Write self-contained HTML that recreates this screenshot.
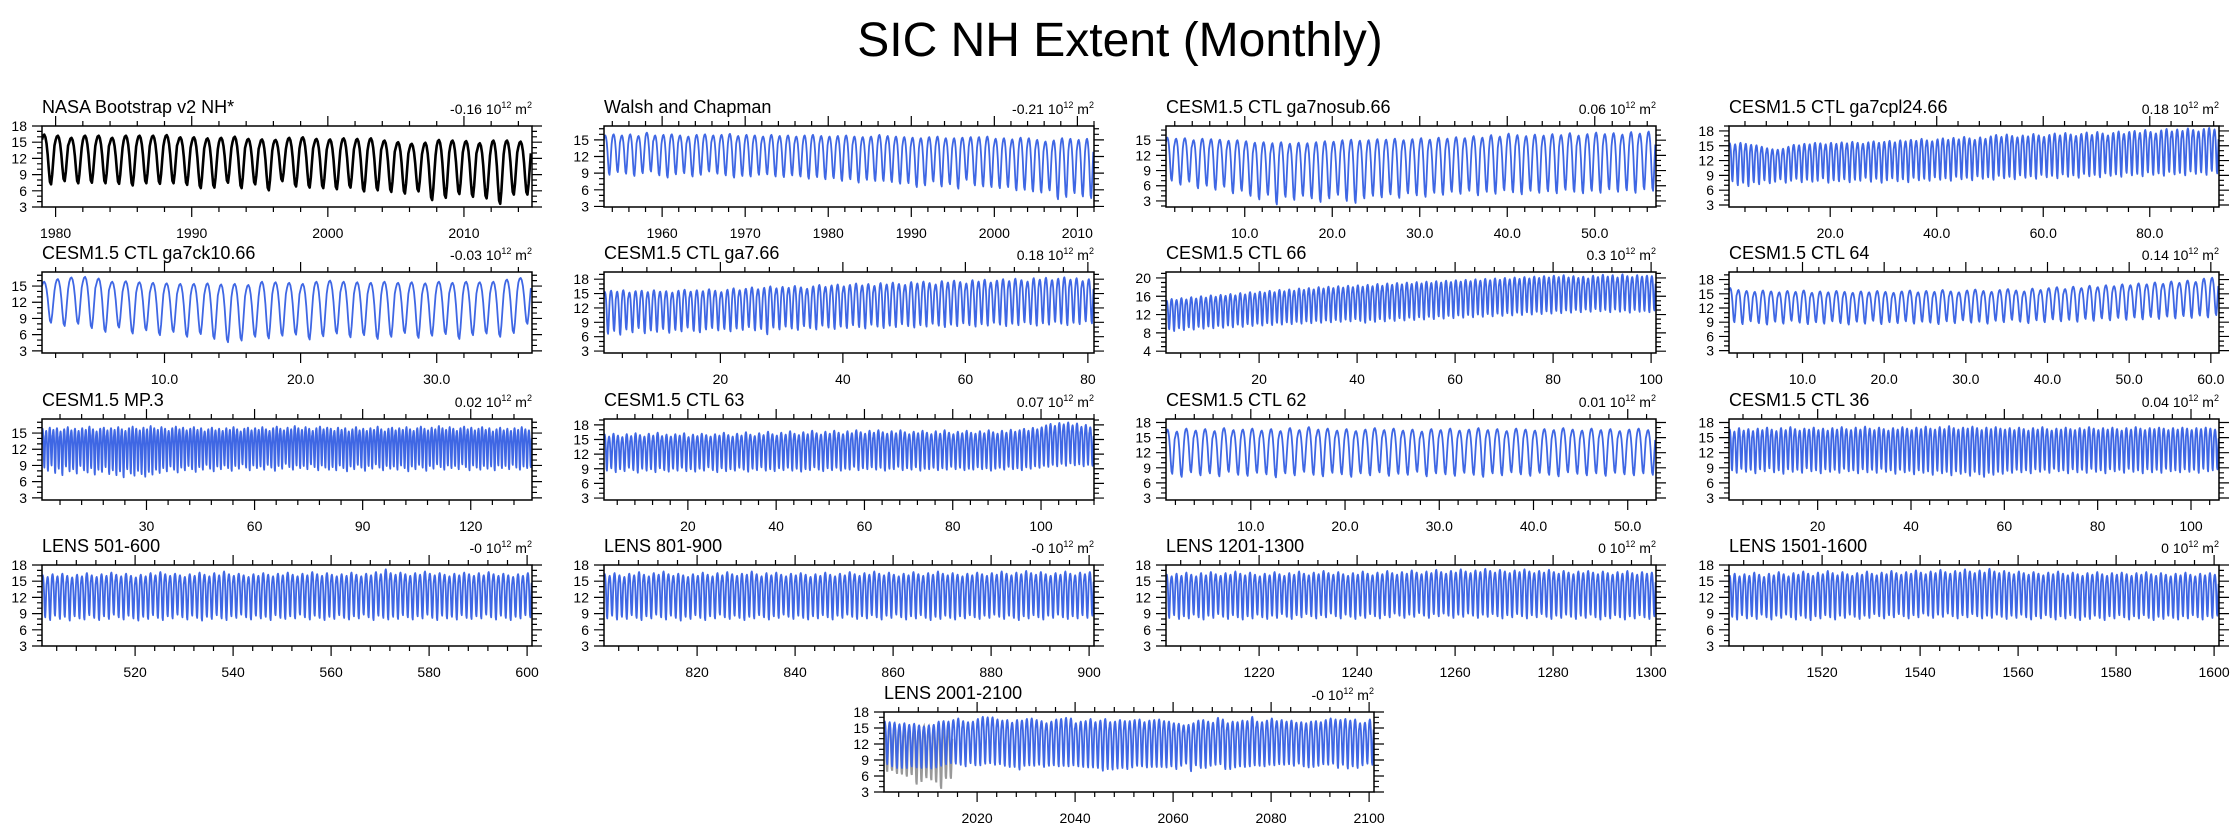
<!DOCTYPE html>
<html><head><meta charset="utf-8">
<style>
html,body{margin:0;padding:0;background:#fff;}
svg{display:block;font-family:"Liberation Sans",Arial,sans-serif;}
</style></head>
<body>
<svg id="chart" width="2240" height="831" viewBox="0 0 2240 831" xmlns="http://www.w3.org/2000/svg">
<rect x="0" y="0" width="2240" height="831" fill="#fff"/>
<text x="1120" y="56" text-anchor="middle" font-size="48" fill="#000">SIC NH Extent (Monthly)</text>
</svg>
<script>
// normalized seasonal cycle Jan..Dec
const seasonShape=[0.9,0.98,1,0.95,0.82,0.6,0.3,0.05,0,0.2,0.5,0.78];

const nasaMax=[16.4,16.2,15.8,16.2,16.2,15.8,16.2,16.2,16.2,16.3,15.9,15.9,15.7,15.8,16,15.6,15.5,15.4,15.8,15.9,15.6,15.5,15.7,15.6,15.7,15.3,15,14.7,14.9,15.4,15.3,15.2,14.8,15.3,15.3,15.1];
const nasaMin=[7.2,7.8,7.4,7.5,7.4,7.3,7,7.4,7.3,7.4,7.1,6.5,6.6,7.5,6.5,7.2,6.1,7.8,6.8,6.6,6.5,6.3,6.6,5.9,6.1,5.8,5.5,5.9,4.3,4.7,5.4,4.9,4.6,3.6,5.3,5.3];

const walshMax=[15.8,16,15.8,16,15.7,16.3,15.8,15.9,16,15.8,15.6,15.9,16,15.8,15.9,16.1,15.7,15.9,15.8,15.6,15.9,15.7,15.8,15.6,15.8,15.9,15.7,15.6,15.7,15.8,15.6,15.5,15.6,15.9,15.7,15.6,15.5,15.4,15.3,15.5,15.6,15.3,15.3,15.4,15.5,15.5,15.6,15.2,15.3,15.1,15.4,15.3,15,14.7,14.9,15.3,15.2,15,15.2];
const walshMin=[8.7,9.2,8.9,8.5,9,9.3,8.6,8.2,8.8,9,8.4,8.7,9.3,8.9,8.6,8.2,8.5,8.4,8.7,8.8,8.4,8.3,8.6,8.4,8,8.3,7.9,8.1,7.6,7.9,7.3,7.8,7.6,7.6,7.4,7.1,7.2,6.5,6.8,7.5,6.6,7,6.2,7.8,6.8,6.6,6.5,6.3,6.5,5.9,6,5.7,5.5,5.9,4.3,4.7,5.4,4.8,4.5];

const nosubMax=[15.5,15.3,15.4,15,15.3,15.2,15.1,14.9,15,14.8,14.5,14.6,14.4,14.6,14.3,14.5,14.4,14.6,14.8,14.7,15,15.1,14.9,15,15.2,15.1,15.3,15,15.2,15.4,15.1,15.5,15.3,15.6,15.4,15.8,15.5,16,15.7,16.3,16,15.8,16.1,15.9,16.2,16,16.4,15.9,16.2,16.5,16.2,16.4,16.1,16.6,16.3,16.7];
const nosubMin=[7,6.2,6.8,5.5,6,5.2,5.8,4.5,5,4,3.3,4.2,2.3,3.8,3.2,4,3.5,2.8,3.5,4.2,3,2.6,3.5,4,3.7,4.3,3.6,4.5,4.1,3.8,4.6,4.2,4.8,4.4,5,4.1,4.8,4.4,5.1,4.7,4.3,5,4.6,4.9,4.5,5.2,4.8,4.5,5,4.6,5.3,4.8,5.1,4.6,5.3,5];

const cpl24Max=[15.5,15.3,15.6,15.4,15.2,15.1,14.8,14.5,14.3,14.2,14.4,14.8,15.2,15.1,15.4,15.3,15.6,15.5,15.3,15.6,15.4,15.7,15.5,15.8,15.6,15.4,15.7,15.9,15.6,15.8,16,15.7,16.1,15.9,16.2,16,16.4,16.1,15.9,16.3,16.5,16.2,16.6,16.3,16.8,16.5,16.2,16.7,16.4,16.9,17.2,16.8,17.3,17,16.7,17.1,16.9,17.4,17.1,16.8,17.2,17.5,17.1,17.6,17.3,17,17.4,17.7,17.2,17.8,17.5,17.1,17.6,17.9,17.4,17.8,18,17.6,18.2,17.8,17.5,18.1,18.4,17.9,18.3,18,18.5,18.2,17.9,18.4,18.6,18.3];
const cpl24Min=[7.8,7,7.5,6.8,7.6,7.2,8,7.4,7.7,8.2,7.5,7.9,8.3,7.6,8.1,7.7,7.9,8.4,7.5,8,7.8,8.2,7.6,8.1,7.9,8.5,7.7,8.3,7.5,8,8.4,7.8,8.2,7.6,8.5,8,8.3,7.9,8.6,8.1,8.4,7.9,8.7,8.2,8.5,8,8.8,8.3,8.6,8.1,8.9,8.4,8.7,8.2,9,8.5,8.8,8.3,9.1,8.6,8.9,8.4,9.2,8.7,9,8.5,9.3,8.8,9.1,8.6,9.4,8.9,9.2,8.7,9.5,9,9.3,8.8,9.6,9.1,9.4,8.9,9.7,9.2,9.5,9,9.8,9.3,9.6,9.1,9.9,9.4];

const ck10Max=[15.8,16.3,16.6,16.7,16.4,15.8,15.9,15.7,15.6,15.5,15.4,15.4,15.5,15.3,15.4,15.2,15.8,15.7,15.6,15.4,15.8,16,15.8,15.7,15.6,15.8,15.6,15.7,15.5,15.8,15.6,15.8,15.7,15.8,16.2,16.5];
const ck10Min=[8.2,7.6,8,7.2,6.5,7.3,6.2,6.8,5.9,6.5,5.6,6.1,5.2,4.6,4.9,5.6,5.3,5.8,6,5.1,5.7,6.2,5.5,5.9,5.2,5.6,6.3,5.4,5.8,6.1,5.2,5.9,6.2,5.6,6.3,8];

const ga7Max=[15.3,15.6,15.4,15.7,15.2,15.5,15.6,15.3,15.7,15.4,15.5,15.2,15.6,15.8,15.4,15.7,15.5,15.9,15.6,15.3,15.8,16.1,15.7,16,16.3,15.9,16.2,16.5,16.1,16.4,16.2,16.6,16.3,16,16.5,16.8,16.4,16.7,16.9,16.5,16.8,17.1,16.7,17,16.6,17.2,16.9,17.3,17,16.8,17.4,17.1,17.5,17.2,16.9,17.6,17.3,17.7,17.4,17.1,17.8,17.5,17.9,17.3,17.7,18,17.6,18.1,17.8,17.5,18.2,17.9,18.3,17.8,18.1,18.4,17.9,18.2,17.6,18];
const ga7Min=[6.6,7.2,6.4,7.5,6.9,7.8,6.7,7.3,7,7.6,6.8,7.4,7.1,7.9,7.2,6.9,7.5,7.8,7.3,7.6,7.1,7.7,7.4,8,7.3,7.6,6.5,7.9,7.5,8.1,7.7,7.4,8.2,7.8,7.5,8.3,7.9,7.6,8.1,7.8,8.4,8,7.7,8.5,8.1,7.8,8.3,8,8.6,8.2,7.9,8.4,8.1,8.7,8.3,8,8.5,8.2,8.8,8.4,8.1,8.6,8.3,8.9,8.5,8.2,8.7,8.4,9,8.6,8.3,8.8,8.5,9.1,8.7,8.4,8.9,8.6,9.2,8.8];

const ctl66Max=[15,15.4,15.2,15.6,15.3,15.8,15.5,16,15.7,16.2,15.9,16.3,16.1,16.5,16.2,16.7,16.4,16.9,16.6,17,16.8,17.2,16.9,17.4,17.1,17.5,17.2,17.7,17.4,17.8,17.5,18,17.7,18.1,17.8,18.2,17.9,18.3,18,18.4,18.1,18.5,18.2,18.7,18.3,18.8,18.5,18.9,18.6,19,18.7,19.1,18.8,19.2,18.9,19.3,19,19.4,19.1,19.5,19.2,19.6,19.3,19.7,19.4,19.8,19.5,19.9,19.6,20,19.7,20.1,19.8,20.2,19.9,20.3,20,20.4,20.1,20.5,20.2,20.6,20.1,20.4,20,20.3,19.9,20.5,20.2,20.7,20.3,20.6,20.1,20.8,20.4,20.2,20.6,20.3,20.5,20.4];
const ctl66Min=[8.8,8.4,9,8.6,9.2,8.7,9.3,8.9,9.4,9,9.5,9.1,9.6,9.2,9.8,9.3,9.9,9.5,10,9.6,10.1,9.7,10.2,9.8,10.3,9.9,10.4,10,10.5,10.1,10.6,10.2,10.7,10.3,10.8,10.4,10.9,10.5,11,10.6,10.2,10.8,10.4,11,10.5,11.1,10.6,11.2,10.7,11.3,10.8,11.4,10.9,11.5,11,11.6,11.1,11.7,11.2,11.8,11.3,11.9,11.4,12,11.5,12.1,11.6,12.2,11.7,12.3,11.8,12.4,11.9,12.5,12,12.6,12.1,12.7,12.2,12.8,12.3,12.9,12.4,13,12.5,13.1,12.6,13.2,12.7,13,12.5,13.1,12.6,12.9,12.4,13,12.6,12.8,12.5,12.9];

const ctl64Max=[16.2,15.8,15.6,15.4,15.7,15.5,15.3,15.6,15.4,15.7,15.2,15.5,15.3,15.6,15.4,15.2,15.5,15.3,15.6,15.4,15.2,15.5,15.7,15.3,15.6,15.4,15.8,15.5,15.3,15.7,15.9,15.6,15.4,15.8,16,15.7,15.5,16.1,15.8,16.2,16.4,16,16.5,16.2,16.7,16.4,16.8,16.6,17,16.8,17.2,17,17.4,17.1,17.6,17.3,17.8,17.5,18.2,18.4];
const ctl64Min=[9,8.6,9.2,8.8,8.5,9.1,8.7,9.3,8.9,8.6,9,8.7,9.2,8.8,8.5,9.1,8.7,9.3,8.6,9,8.8,9.2,8.7,9.1,8.9,8.6,9.2,8.8,9.4,8.9,9.1,8.7,9.3,9,9.5,9.1,8.8,9.4,9,9.6,9.2,9.5,9.1,9.7,9.3,9.8,9.4,9.9,9.5,10,9.6,10.1,9.7,10.2,9.8,10.3,9.9,10.4,10,10.5];

const mp3Max=[15.8,15.4,16,15.6,15.9,15.3,15.7,16.1,15.5,15.8,15.4,15.9,15.6,16.2,15.7,15.3,15.8,16,15.5,15.9,15.6,16.1,15.7,15.4,15.9,16.2,15.8,15.5,16,15.7,16.3,15.9,15.6,16.1,15.8,15.4,15.9,16.2,15.7,16,15.5,15.8,16.1,15.6,15.9,15.3,15.7,16,15.5,15.8,15.4,15.9,15.6,16.1,15.7,15.3,15.8,16,15.5,15.9,15.6,16.1,15.7,15.4,15.9,16.2,15.8,15.5,16,15.7,16.3,15.9,15.6,16.1,15.8,15.4,15.9,16.2,15.7,16,15.8,15.4,16,15.6,15.9,15.3,15.7,16.1,15.5,15.8,15.4,15.9,15.6,16.2,15.7,15.3,15.8,16,15.5,15.9,15.6,16.1,15.7,15.4,15.9,16.2,15.8,15.5,16,15.7,16.3,15.9,15.6,16.1,15.8,15.4,15.9,16.2,15.7,16,15.5,15.8,16.1,15.6,15.9,15.3,15.7,16,15.5,15.8,15.4,15.9,15.6,16.1,15.7,15.5];
const mp3Min=[8.6,8,9,7.6,8.4,7.2,8.8,7.9,8.3,7.5,8.9,8.1,7.7,8.5,7.3,8.2,7.8,8.7,7.4,8.1,7.2,7.9,6.8,8.3,7.5,7.1,8,7.4,6.9,7.8,7.3,8.2,7.6,8.5,7.9,8.8,8.2,7.7,8.6,8.1,8.9,8.3,7.8,8.7,8.2,9.1,8.4,7.9,8.8,8.3,9,8.5,8,8.9,8.4,9.2,8.6,8.1,9,8.5,8.8,8.2,9.1,8.6,8,8.9,8.4,9.3,8.7,8.2,9,8.5,8.9,8.3,9.2,8.7,8.1,9,8.6,8.2,8.7,8.1,9,8.5,7.9,8.8,8.3,9.1,8.6,8,8.9,8.4,9.2,8.6,8.1,8.9,8.4,8.8,8.2,9,8.5,7.9,8.8,8.3,9.1,8.6,8,8.9,8.4,9.2,8.7,8.2,9,8.5,8.9,8.3,9.2,8.7,8.1,9,8.6,8.2,8.9,8.4,8.8,8.1,9,8.5,8.9,8.3,9.1,8.6,8.2,8.8,8.5,8.7];

const ctl63Max=[16,15.6,16.2,15.8,15.5,16.1,15.7,16.3,15.9,15.6,16.2,15.8,16.4,15.7,16,15.6,16.1,15.8,16.3,15.5,16,15.7,16.2,15.9,15.6,16.1,15.8,16.4,15.9,15.6,16.2,15.8,16.5,16,15.7,16.3,15.9,16.6,16.1,15.8,16.4,16,16.7,16.2,15.9,16.5,16.1,16.8,16.3,16,16.6,16.2,16.8,16.4,16.1,16.7,16.3,16.9,16.5,16.2,16.8,16.4,16.9,16.5,16.2,16.7,16.3,16.9,16.5,16.1,16.6,16.3,16.8,16.4,16.1,16.7,16.2,16.9,16.4,16.1,16.6,16.3,16.8,16.4,16.2,16.7,16.3,16.9,16.5,16.2,16.8,16.4,17,16.6,16.9,17.2,16.8,17.4,17.1,17.5,17.9,18.2,17.8,18.4,18.1,18.5,17.9,18.3,17.6,18,17.5];
const ctl63Min=[8.6,9.1,8.3,8.9,8.5,9.2,8.7,8.2,9,8.6,8.9,8.3,9.1,8.7,8.4,9,8.6,9.2,8.5,8.9,8.4,9,8.6,9.3,8.7,8.3,9.1,8.5,8.9,8.6,9.2,8.8,8.4,9,8.7,9.3,8.6,8.9,8.5,9.1,8.7,9.2,8.6,9,8.4,8.9,8.7,9.3,8.8,8.5,9.1,8.7,9.2,8.6,9,8.8,9.4,8.7,9.1,8.9,9.3,8.8,9.2,8.6,9,8.9,9.4,8.7,9.1,8.8,9.3,8.6,9,8.9,9.2,8.7,9.1,8.8,9.4,8.9,9.2,8.7,9,8.8,9.3,8.9,9.1,8.6,9,9.2,8.8,9.4,8.9,9.1,8.7,9.3,9,9.5,9.2,9.6,9.4,9.8,9.5,10,9.6,10.1,9.7,9.9,9.5,9.8,9.6];

const ctl62Max=[16.6,16.2,16.8,16.4,16.7,16.3,16.9,16.5,16.6,16.8,16.4,16.7,16.3,16.9,16.5,17.1,16.6,16.8,16.4,16.7,16.3,16.6,16.9,16.5,16.8,16.4,16.6,16.2,16.7,16.5,16.8,16.4,16.6,16.9,16.5,16.7,16.3,16.8,16.6,16.4,16.7,16.5,16.9,16.6,16.4,16.8,16.5,16.7,16.3,16.6,16.8,16.5];
const ctl62Min=[7.8,7.2,8.1,7.5,7.9,7.3,8.2,7.6,7.4,8,7.7,7.1,7.9,7.5,8.2,7.6,7.3,8,7.7,7.2,7.9,7.5,8.1,7.4,7.8,7.6,8.2,7.3,7.9,7.7,7.4,8,7.6,7.2,7.9,7.5,8.1,7.7,7.4,8,7.6,7.3,8.1,7.8,7.5,7.9,7.4,8,7.7,7.5,7.9,7.6];

const ctl36Max=[16.6,16.2,16.9,16.4,16.7,16.3,16.8,16.5,17,16.6,16.3,16.9,16.5,17.1,16.7,16.4,16.8,16.6,17,16.5,16.8,16.4,16.9,16.6,17.1,16.7,16.5,17,16.6,17.2,16.8,16.5,17,16.7,16.4,16.9,16.6,17.1,16.8,16.5,17,16.7,17.2,16.8,16.6,17.1,16.7,17.3,16.9,16.6,17,16.8,17.2,16.9,16.5,17,16.7,17.1,16.8,16.6,16.9,16.5,17,16.7,16.4,16.9,16.6,17.1,16.7,16.4,16.8,16.6,17,16.7,16.5,16.9,16.6,17.1,16.8,16.5,16.9,16.6,17,16.7,16.4,16.9,16.6,17.1,16.8,16.5,16.9,16.7,17,16.8,16.5,16.9,16.6,17,16.8,16.5,16.9,16.7,17,16.8,16.6];
const ctl36Min=[8.5,8,8.8,8.2,8.6,7.9,8.7,8.3,8.9,8.1,8.5,7.8,8.7,8.2,8.6,8,8.9,8.3,8.5,7.9,8.7,8.2,8.6,8,8.8,8.3,8.5,7.9,8.7,8.1,8.6,8,8.8,8.2,8.5,7.8,8.6,8.1,8.4,7.7,8.5,8,8.3,7.6,8.4,7.9,8.2,7.5,8.3,7.8,8.1,7.4,8.2,7.7,7.2,8,7.6,8.2,7.8,8.4,8,8.6,8.1,8.5,7.9,8.7,8.2,8.6,8,8.8,8.3,8.5,7.9,8.7,8.1,8.6,8,8.8,8.2,8.5,7.9,8.7,8.3,8.6,8,8.8,8.2,8.5,7.9,8.7,8.1,8.6,8,8.8,8.3,8.5,8.1,8.7,8.2,8.6,8,8.8,8.3,8.5,8.7];

const lens501Max=[16.1,15.8,16.3,15.9,16.4,16,15.7,16.2,15.9,16.5,16.1,15.8,16.3,16,16.6,16.2,15.9,16.4,16,15.7,16.2,15.9,16.5,16.1,16.7,16.3,16,16.4,16.1,15.8,16.3,16,16.6,16.2,15.9,16.5,16.1,16.8,16.3,16,16.4,16.1,15.8,16.3,16,16.5,16.2,15.9,16.4,16.1,16.6,16.2,15.9,16.4,16.1,16.7,16.3,16,16.5,16.2,15.9,16.3,16,16.6,16.2,15.9,16.4,16.1,16.7,16.3,17.2,16.5,16.2,16.6,16.3,16,16.5,16.2,16.8,16.4,16.1,16.5,16.2,15.9,16.4,16.1,16.6,16.3,16,16.5,16.1,16.7,16.3,16,16.4,16.1,15.8,16.3,16,16.5];
const lens501Min=[8.3,7.8,8.6,8,8.4,7.7,8.5,8.1,7.9,8.7,8.2,7.8,8.5,8,8.8,8.3,7.9,8.6,8.1,7.7,8.4,8,8.7,8.2,7.8,8.5,8.1,8.8,8.3,7.9,8.6,8.2,7.7,8.4,8,8.7,8.1,7.8,8.5,8.2,8.8,8.3,7.9,8.6,8.1,8.4,7.8,8.7,8.2,8,8.5,8.1,8.8,8.3,7.9,8.6,8.2,7.8,8.4,8,8.7,8.2,7.9,8.5,8.1,8.8,8.3,7.8,8.6,8.2,7.9,8.4,8,8.7,8.3,7.9,8.5,8.1,8.8,8.2,7.8,8.6,8.1,8.4,7.9,8.7,8.2,8,8.5,8.1,8.8,8.3,7.9,8.6,8.2,7.8,8.4,8.1,8.7,8.3];

const lens801Max=[16.3,16,16.5,16.1,15.8,16.4,16.1,16.7,16.2,15.9,16.5,16.2,16.8,16.3,16,16.4,16.1,15.8,16.3,16,16.6,16.2,15.9,16.5,16.1,16.7,16.3,16,16.4,16.2,16.8,16.3,15.9,16.5,16.1,16.6,16.2,15.9,16.4,16.1,16.5,16.2,15.8,16.3,16,16.6,16.2,15.9,16.4,16.1,16.7,16.3,16,16.5,16.2,16.8,16.4,16.1,16.6,16.2,15.9,16.4,16.1,16.7,16.3,16,16.5,16.2,16.8,16.4,16.1,16.5,16.2,15.9,16.4,16.1,16.6,16.3,16,16.5,16.2,16.8,16.4,16.1,16.6,16.3,16.9,16.5,16.2,16.7,16.3,16,16.5,16.2,16.8,16.4,16.1,16.6,16.3,16.7];
const lens801Min=[8.1,8.6,7.9,8.4,8,8.7,8.2,7.8,8.5,8.1,8.8,8.3,7.9,8.6,8.2,7.7,8.4,8,8.7,8.2,7.8,8.5,8.1,8.8,8.3,8,8.6,8.2,7.8,8.4,8.1,8.7,8.3,7.9,8.5,8.2,8.8,8.4,8,8.6,8.2,7.9,8.5,8.1,8.7,8.3,7.9,8.6,8.2,8.8,8.4,8,8.5,8.1,8.7,8.3,7.9,8.6,8.2,8.8,8.3,7.9,8.5,8.1,8.7,8.2,7.8,8.4,8,8.6,8.2,7.9,8.5,8.1,8.7,8.3,8,8.6,8.2,8.8,8.4,8,8.6,8.2,7.8,8.5,8.1,8.7,8.3,7.9,8.6,8.2,8.8,8.3,8,8.5,8.1,8.7,8.2,8.6];

const lens1201Max=[16.2,15.9,16.4,16,16.6,16.2,15.9,16.5,16.1,16.7,16.3,16,16.5,16.2,16.8,16.4,16.1,16.6,16.2,15.9,16.4,16.1,16.7,16.3,16,16.5,16.2,16.8,16.4,16.1,16.6,16.3,16.9,16.5,16.2,16.7,16.3,16,16.5,16.2,16.8,16.4,16.1,16.6,16.3,16.9,16.5,16.2,16.7,16.4,17,16.6,16.3,16.8,16.5,17.1,16.7,16.4,16.9,16.6,17.2,16.8,16.5,17,16.7,17.3,16.9,16.6,17.1,16.8,16.5,17,16.7,17.2,16.8,16.5,16.9,16.6,17.1,16.7,16.4,16.9,16.6,16.3,16.8,16.5,16.9,16.6,16.3,16.8,16.5,16.2,16.7,16.4,16.9,16.5,16.2,16.7,16.4,16.6];
const lens1201Min=[8.2,8.7,8,8.5,8.1,8.8,8.3,7.9,8.6,8.2,8.9,8.4,8,8.7,8.3,7.9,8.5,8.1,8.8,8.3,8,8.6,8.2,8.9,8.4,8,8.7,8.3,8.9,8.5,8.1,8.7,8.3,9,8.5,8.1,8.8,8.4,8,8.6,8.2,8.9,8.5,8.1,8.7,8.3,9,8.6,8.2,8.8,8.4,9.1,8.6,8.2,8.9,8.5,9,8.6,8.2,8.8,8.4,9,8.6,8.2,8.8,8.4,8.9,8.5,8.1,8.7,8.3,8.9,8.5,8.1,8.7,8.3,8.9,8.4,8,8.6,8.2,8.8,8.4,8,8.6,8.2,8.8,8.3,7.9,8.5,8.1,8.7,8.3,7.9,8.5,8.1,8.7,8.3,8,8.5];

const lens1501Max=[16,16.4,15.9,16.3,16,16.6,16.2,15.8,16.4,16.1,16.7,16.3,15.9,16.5,16.2,16.8,16.4,16,16.6,16.3,16.9,16.5,16.1,16.7,16.3,16,16.5,16.2,16.8,16.4,16.1,16.6,16.3,16.9,16.5,16.2,16.7,16.4,17,16.6,16.3,16.8,16.5,17.1,16.7,16.4,16.9,16.6,17.2,16.8,16.5,17,16.6,17.3,16.8,16.5,16.9,16.6,16.3,16.8,16.5,16.2,16.7,16.4,16.1,16.6,16.3,16.8,16.4,16.1,16.6,16.3,16,16.5,16.2,16.7,16.3,16,16.5,16.2,16.6,16.3,16,16.5,16.2,16.7,16.3,16,16.5,16.2,15.9,16.4,16.1,16.6,16.2,15.9,16.4,16.1,16.5,16.2];
const lens1501Min=[8.4,7.9,8.7,8.1,8.5,8,8.8,8.3,7.9,8.6,8.2,8.8,8.3,7.9,8.6,8.2,7.8,8.5,8.1,8.7,8.3,7.9,8.6,8.2,8.8,8.4,8,8.6,8.2,8.9,8.5,8.1,8.7,8.3,8.9,8.5,8.1,8.7,8.3,9,8.6,8.2,8.8,8.4,9,8.5,8.1,8.7,8.3,8.9,8.5,8.1,8.6,8.2,8.8,8.4,8,8.6,8.2,8.8,8.3,7.9,8.5,8.1,8.7,8.3,7.9,8.5,8.1,8.7,8.2,7.8,8.4,8,8.6,8.2,7.8,8.5,8.1,8.7,8.3,7.9,8.5,8.1,8.7,8.2,7.8,8.4,8,8.6,8.2,7.9,8.5,8.1,8.7,8.3,7.9,8.5,8.2,8.6];

const lens2001Max=[16.2,16.1,16,15.7,15.9,15.6,15.8,15.5,15.3,15.5,15.6,16.2,16.3,16.2,16.5,16.8,16.3,16.1,16.2,16.7,17.1,17,17,16.6,16.4,16.5,16,16.5,16.4,16.7,16.8,16.5,16.3,15.9,16.2,16.6,16.7,16.9,16.8,15.9,16.2,16.3,16.7,16.1,16.4,16.7,16.1,16.2,16.5,16.3,16.3,16.5,16.6,16.1,16.4,16.5,16.6,16.3,16.2,15.9,15.8,15.5,15.6,15.9,16.4,16.5,16.2,16,16.9,16.6,15.9,16.2,16.1,16.4,16.3,17.1,16.2,16.1,16.4,16.8,16.3,16.5,16.2,16.4,16,16.1,15.9,16.2,16.3,16.1,16.5,16.8,16.6,16.5,16.7,16.4,16.6,15.9,16,16.6];
const lens2001Min=[8.2,7.8,7.5,7.5,7.5,7.8,7.6,7.5,7.6,7.4,7.6,7.9,8.2,8.4,8.3,8.1,7.8,8.4,8,8,8.3,8.4,8.1,8.2,7.9,7.7,7.7,7.2,7.9,8,7.9,8.1,7.7,7.9,8,7.8,7.9,7.8,8,7.8,7.7,7.6,7.6,7.5,7,7.3,7.2,7.4,7.5,7.3,7.6,7.9,7.8,7.6,7.7,7.7,7.7,7.6,7.8,7.3,7.9,8.3,6.9,8,7.5,7.5,7.9,8.1,8.2,7.3,7.3,7.6,7.8,7.7,7.8,8,7.9,7.8,8.1,8,8.2,8.1,8.2,7.9,8.3,7.8,7.6,7.7,7.9,8.2,8.1,8.3,7.5,8.1,7.4,7.8,7.5,8,8.3,8.1];
const obsOverlayMax=[15.8,15.6,15.7,15.3,15,14.7,14.9,15.4,15.3,15.2,14.8,15.3,15.3,15.1];
const obsOverlayMin=[6.8,7,6.4,6.3,5.9,6.2,4.4,4.9,5.6,5.2,4.8,3.6,5.5,5.5];

const panelTitles=["NASA Bootstrap v2 NH*","Walsh and Chapman","CESM1.5 CTL ga7nosub.66","CESM1.5 CTL ga7cpl24.66","CESM1.5 CTL ga7ck10.66","CESM1.5 CTL ga7.66","CESM1.5 CTL 66","CESM1.5 CTL 64","CESM1.5 MP.3","CESM1.5 CTL 63","CESM1.5 CTL 62","CESM1.5 CTL 36","LENS 501-600","LENS 801-900","LENS 1201-1300","LENS 1501-1600","LENS 2001-2100"];
const panelTrends=["-0.16","-0.21","0.06","0.18","-0.03","0.18","0.3","0.14","0.02","0.07","0.01","0.04","-0","-0","0","0","-0"];
const BLUE="#3f67e4";
const panels=[
 {mx:nasaMax,mn:nasaMin,t0:1979,ylo:3,yhi:18,yt:[3,6,9,12,15,18],xt:[1980,1990,2000,2010],dec:0,color:"#000",lw:2.6},
 {mx:walshMax,mn:walshMin,t0:1953,ylo:2.9,yhi:17.5,yt:[3,6,9,12,15],xt:[1960,1970,1980,1990,2000,2010],dec:0},
 {mx:nosubMax,mn:nosubMin,t0:1,ylo:1.8,yhi:17.8,yt:[3,6,9,12,15],xt:[10,20,30,40,50],dec:1},
 {mx:cpl24Max,mn:cpl24Min,t0:1,ylo:2.6,yhi:19,yt:[3,6,9,12,15,18],xt:[20,40,60,80],dec:1},
 {mx:ck10Max,mn:ck10Min,t0:1,ylo:2.6,yhi:17.6,yt:[3,6,9,12,15],xt:[10,20,30],dec:1},
 {mx:ga7Max,mn:ga7Min,t0:1,ylo:2.6,yhi:19.5,yt:[3,6,9,12,15,18],xt:[20,40,60,80],dec:0},
 {mx:ctl66Max,mn:ctl66Min,t0:1,ylo:3.6,yhi:21.3,yt:[4,8,12,16,20],xt:[20,40,60,80,100],dec:0},
 {mx:ctl64Max,mn:ctl64Min,t0:1,ylo:2.5,yhi:19.6,yt:[3,6,9,12,15,18],xt:[10,20,30,40,50,60],dec:1},
 {mx:mp3Max,mn:mp3Min,t0:1,ylo:2.6,yhi:17.6,yt:[3,6,9,12,15],xt:[30,60,90,120],dec:0},
 {mx:ctl63Max,mn:ctl63Min,t0:1,ylo:2.6,yhi:19.2,yt:[3,6,9,12,15,18],xt:[20,40,60,80,100],dec:0},
 {mx:ctl62Max,mn:ctl62Min,t0:1,ylo:2.6,yhi:18.7,yt:[3,6,9,12,15,18],xt:[10,20,30,40,50],dec:1},
 {mx:ctl36Max,mn:ctl36Min,t0:1,ylo:2.6,yhi:18.7,yt:[3,6,9,12,15,18],xt:[20,40,60,80,100],dec:0},
 {mx:lens501Max,mn:lens501Min,t0:501,ylo:3,yhi:18,yt:[3,6,9,12,15,18],xt:[520,540,560,580,600],dec:0},
 {mx:lens801Max,mn:lens801Min,t0:801,ylo:3,yhi:18,yt:[3,6,9,12,15,18],xt:[820,840,860,880,900],dec:0},
 {mx:lens1201Max,mn:lens1201Min,t0:1201,ylo:3,yhi:18,yt:[3,6,9,12,15,18],xt:[1220,1240,1260,1280,1300],dec:0},
 {mx:lens1501Max,mn:lens1501Min,t0:1501,ylo:3,yhi:18,yt:[3,6,9,12,15,18],xt:[1520,1540,1560,1580,1600],dec:0},
 {mx:lens2001Max,mn:lens2001Min,t0:2001,ylo:3,yhi:18,yt:[3,6,9,12,15,18],xt:[2020,2040,2060,2080,2100],dec:0,obs:true}
];
const colLeft=[42,604,1166,1729];
const rowTop=[126,272,419,565,712];
const BW=490,BH=81;
const NS="http://www.w3.org/2000/svg";
const svg=document.getElementById("chart");
function el(tag,attrs,parent){const e=document.createElementNS(NS,tag);for(const k in attrs)e.setAttribute(k,attrs[k]);(parent||svg).appendChild(e);return e;}

function seriesPath(mx,mn,t0,sx,sy){
  let d="";
  for(let i=0;i<mx.length;i++){
    for(let m=0;m<12;m++){
      const t=t0+i+m/12;
      const v=mn[i]+seasonShape[m]*(mx[i]-mn[i]);
      d+=(d?"L":"M")+sx(t).toFixed(2)+","+sy(v).toFixed(2);
    }
  }
  return d;
}

panels.forEach((p,k)=>{
  const L=k<16?colLeft[k%4]:884;
  const T=rowTop[Math.floor(k/4)];
  const R=L+BW,B=T+(k<16?BH:80);
  const n=p.mx.length;
  const sx=t=>L+(t-p.t0)/n*BW;
  const sy=v=>T+(p.yhi-v)/(p.yhi-p.ylo)*(B-T);
  const g=el("g",{});
  
  
  const clipId="clip"+k;
  const cp=el("clipPath",{id:clipId},g);
  el("rect",{x:L,y:T,width:BW,height:B-T},cp);
  const title=el("text",{x:L,y:T-13,"font-size":18,fill:"#000"},g);
  title.textContent=panelTitles[k];
  
  
  const note=el("text",{x:R,y:T-12,"font-size":14,"text-anchor":"end",fill:"#000"},g);
  note.innerHTML=panelTrends[k]+" 10<tspan dy='-6' font-size='9'>12</tspan><tspan dy='6'> m</tspan><tspan dy='-6' font-size='9'>2</tspan>";
  
  
  const lines=el("g",{"clip-path":"url(#"+clipId+")"},g);
  if(p.obs){
    const po=el("path",{d:seriesPath(obsOverlayMax,obsOverlayMin,p.t0,sx,sy),fill:"none",stroke:"#999","stroke-width":2},lines);
    
    
  }
  const ln=el("path",{d:seriesPath(p.mx,p.mn,p.t0,sx,sy),fill:"none",stroke:p.color||BLUE,"stroke-width":p.lw||1.8,"stroke-linejoin":"round"},lines);
  
  
  const box=el("rect",{x:L,y:T,width:BW,height:B-T,fill:"none",stroke:"#000","stroke-width":1.5},g);
  
  
  const step=p.xt.length>1?p.xt[1]-p.xt[0]:10;
  const minor=step/5;
  let tk="";
  for(let t=p.xt[0]-step;t<=p.t0+n+0.001;t+=minor){
    if(t<p.t0)continue;
    const x=sx(t);const major=p.xt.some(v=>Math.abs(v-t)<1e-6);const len=major?10:5;
    tk+="M"+x+","+T+"v"+(-len)+"M"+x+","+B+"v"+len;
  }
  for(let v=Math.ceil(p.ylo);v<=p.yhi;v+=1){
    const y=sy(v);const major=p.yt.includes(v);const len=major?10:5;
    tk+="M"+L+","+y+"h"+(-len)+"M"+R+","+y+"h"+len;
  }
  const tp=el("path",{d:tk,stroke:"#000","stroke-width":1.2,fill:"none"},g);
  
  
  p.xt.forEach(v=>{
    const tx=el("text",{x:sx(v),y:B+31,"font-size":14,"text-anchor":"middle",fill:"#000"},g);
    tx.textContent=p.dec?v.toFixed(1):String(v);
    
    
  });
  p.yt.forEach(v=>{
    const ty=el("text",{x:L-15,y:sy(v)+5,"font-size":14,"text-anchor":"end",fill:"#000"},g);
    ty.textContent=String(v);
    
    
  });
});
</script>
</body></html>
